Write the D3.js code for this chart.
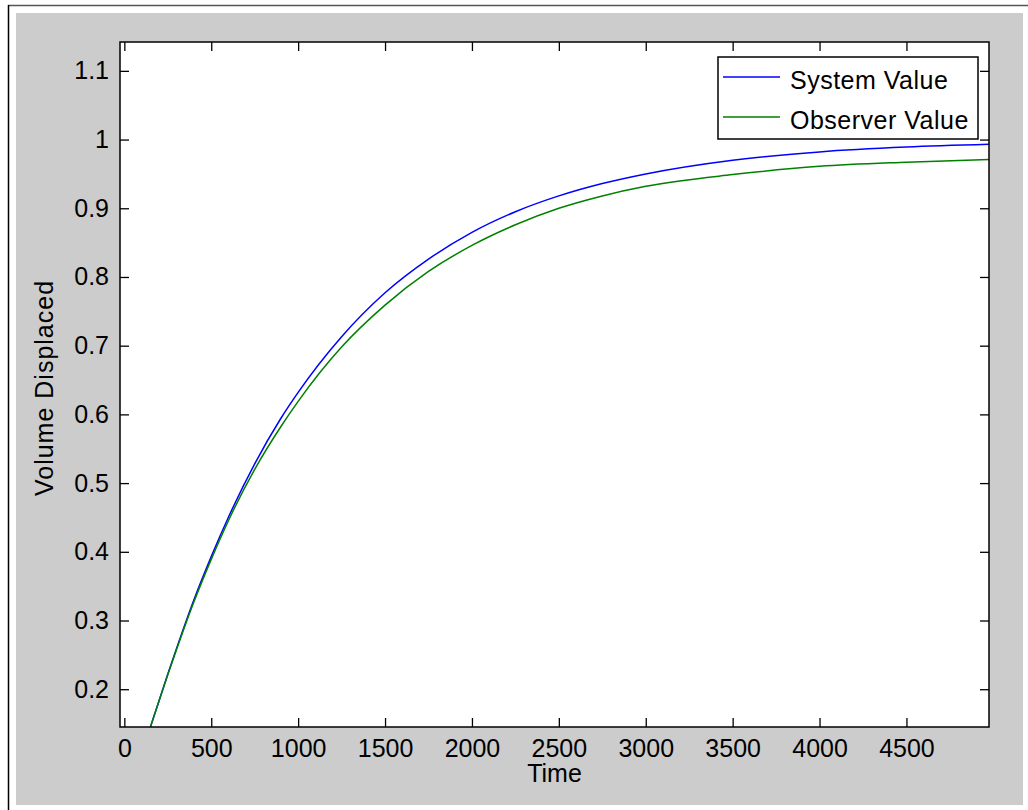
<!DOCTYPE html>
<html>
<head>
<meta charset="utf-8">
<script src="https://cdn.jsdelivr.net/npm/d3@7"></script>
<style>
  html, body { margin: 0; padding: 0; background: #ffffff; }
  svg { display: block; }
  text { font-family: "Liberation Sans", Arial, sans-serif; fill: #000; }
</style>
</head>
<body>
<svg id="chart" width="1028" height="810"></svg>
<script>
// ---- data ----
const time = [150, 250, 400, 500, 600, 750, 900, 1000, 1250, 1500, 1750, 2000, 2250, 2500, 2750, 3000, 3500, 4000, 4500, 4975];
const systemValue = [0.145, 0.222, 0.330, 0.393, 0.451, 0.528, 0.594, 0.632, 0.713, 0.777, 0.826, 0.865, 0.895, 0.918, 0.936, 0.950, 0.970, 0.982, 0.989, 0.993];
const observerValue = [0.145, 0.221, 0.327, 0.389, 0.446, 0.520, 0.582, 0.619, 0.698, 0.759, 0.808, 0.846, 0.876, 0.900, 0.918, 0.932, 0.949, 0.961, 0.967, 0.971];
const xTicks = [0, 500, 1000, 1500, 2000, 2500, 3000, 3500, 4000, 4500];
const yTicks = [0.2, 0.3, 0.4, 0.5, 0.6, 0.7, 0.8, 0.9, 1.0, 1.1];
const seriesNames = ["System Value", "Observer Value"];
const seriesColors = ["#0000ff", "#008000"];
const xLabel = "Time";
const yLabel = "Volume Displaced";

const svg = d3.select("#chart");

// figure frame
svg.append("rect").attr("x", 16).attr("y", 13).attr("width", 1007).attr("height", 792).attr("fill", "#cccccc");
svg.append("line").attr("x1", 8).attr("x2", 1028).attr("y1", 5.5).attr("y2", 5.5).attr("stroke", "#555").attr("stroke-width", 1.5);
svg.append("line").attr("x1", 8.5).attr("x2", 8.5).attr("y1", 5).attr("y2", 810).attr("stroke", "#000").attr("stroke-width", 1.5);

const L = 120, R = 989, T = 42, B = 727;
const x = d3.scaleLinear().domain([-25, 4975]).range([L, R]);
const y = d3.scaleLinear().domain([0.145, 1.142]).range([B, T]);

svg.append("rect").attr("x", L).attr("y", T).attr("width", R - L).attr("height", B - T).attr("fill", "#ffffff");

svg.append("clipPath").attr("id", "clip").append("rect")
  .attr("x", L).attr("y", T).attr("width", R - L).attr("height", B - T);

const line = d3.line().x(d => x(d[0])).y(d => y(d[1])).curve(d3.curveMonotoneX);
const series = [systemValue, observerValue];
series.forEach((vals, i) => {
  svg.append("path")
    .datum(time.map((t, k) => [t, vals[k]]))
    .attr("clip-path", "url(#clip)")
    .attr("fill", "none")
    .attr("stroke", seriesColors[i])
    .attr("stroke-width", 1.5)
    .attr("d", line);
});

const tickLen = 9;
const fs = 25;
// axes
const gx = svg.append("g").attr("transform", `translate(0,${B})`)
  .call(d3.axisBottom(x).tickValues(xTicks).tickSizeInner(-tickLen).tickSizeOuter(0).tickPadding(12).tickFormat(d3.format("d")));
const gxTop = svg.append("g").attr("transform", `translate(0,${T})`)
  .call(d3.axisTop(x).tickValues(xTicks).tickSizeInner(-tickLen).tickSizeOuter(0).tickFormat(""));
const gy = svg.append("g").attr("transform", `translate(${L},0)`)
  .call(d3.axisLeft(y).tickValues(yTicks).tickSizeInner(-tickLen).tickSizeOuter(0).tickPadding(11).tickFormat(d => d === 1 ? "1" : d3.format(".1f")(d)));
const gyR = svg.append("g").attr("transform", `translate(${R},0)`)
  .call(d3.axisRight(y).tickValues(yTicks).tickSizeInner(-tickLen).tickSizeOuter(0).tickFormat(""));

[gx, gxTop, gy, gyR].forEach(g => {
  g.select(".domain").remove();
  g.selectAll(".tick line").attr("stroke", "#000").attr("stroke-width", 1.3);
  g.selectAll("text").attr("font-size", fs).attr("font-family", "'Liberation Sans', Arial, sans-serif").attr("fill", "#000");
});
gx.selectAll("text").attr("dy", "0.71em");

svg.append("rect").attr("x", L).attr("y", T).attr("width", R - L).attr("height", B - T)
  .attr("fill", "none").attr("stroke", "#000").attr("stroke-width", 1.5);

// labels
svg.append("text").attr("x", (L + R) / 2).attr("y", 782).attr("text-anchor", "middle").attr("font-size", fs).text(xLabel);
svg.append("text").attr("transform", `translate(53,388) rotate(-90)`).attr("text-anchor", "middle")
  .attr("font-size", fs).attr("letter-spacing", 1).text(yLabel);

// legend
const lg = svg.append("g");
lg.append("rect").attr("x", 718).attr("y", 57).attr("width", 260).attr("height", 82)
  .attr("fill", "#ffffff").attr("stroke", "#000").attr("stroke-width", 1.5);
seriesNames.forEach((name, i) => {
  const yy = 77 + i * 40;
  lg.append("line").attr("x1", 723).attr("x2", 780).attr("y1", yy).attr("y2", yy)
    .attr("stroke", seriesColors[i]).attr("stroke-width", 1.5);
  lg.append("text").attr("x", 790).attr("y", yy + 3).attr("dy", "0.36em")
    .attr("font-size", fs).attr("letter-spacing", 0.5).text(name);
});
</script>
</body>
</html>
